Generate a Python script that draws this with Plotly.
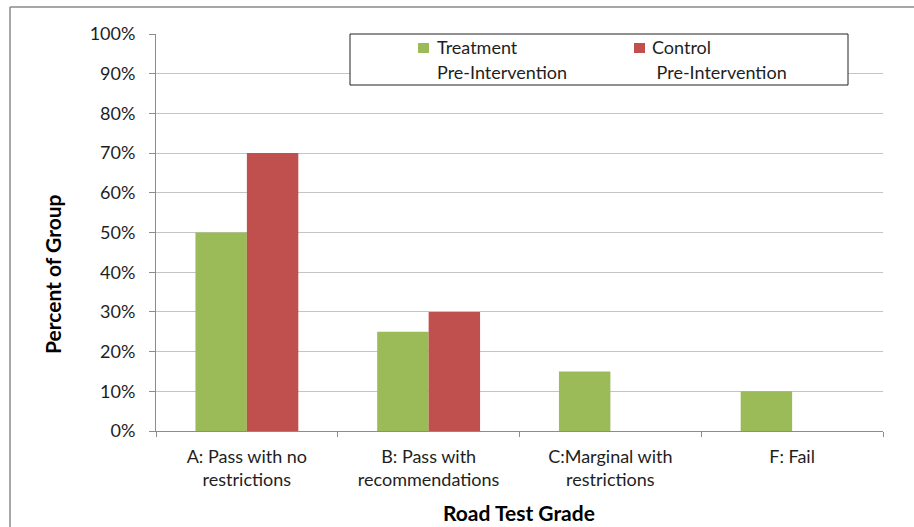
import plotly.graph_objects as go

# Road test results by grade, share of each group
categories = [
    "A: Pass with no<br>restrictions",
    "B: Pass with<br>recommendations",
    "C:Marginal with<br>restrictions",
    "F: Fail",
]
treatment_pre = [0.50, 0.25, 0.15, 0.10]
control_pre = [0.70, 0.30, 0.00, 0.00]
series_names = [("Treatment", "Pre-Intervention"), ("Control", " Pre-Intervention")]
green = "#9BBB59"
red = "#C0504D"

W, H = 914, 527
L, R, T, B = 156, 883, 34, 431  # plot area in pixels
FONT = "Lato"
TXT = "#1e1e1e"
FS = 18


def px(x):
    return (x - L) / (R - L)


def py(y):
    return (B - y) / (B - T)


fig = go.Figure()
fig.add_trace(go.Bar(x=categories, y=treatment_pre, name=" ".join(series_names[0]),
                     marker=dict(color=green, line=dict(width=0)), showlegend=False))
fig.add_trace(go.Bar(x=categories, y=control_pre, name=" ".join(series_names[1]).strip(),
                     marker=dict(color=red, line=dict(width=0)), showlegend=False))

shapes = [
    # chart frame (top and left edges)
    dict(type="line", xref="paper", yref="paper", x0=px(10), x1=px(916), y0=py(7), y1=py(7),
         line=dict(color="#8a8a8a", width=1.5)),
    dict(type="line", xref="paper", yref="paper", x0=px(10), x1=px(10), y0=py(7), y1=py(530),
         line=dict(color="#8a8a8a", width=1.5)),
    # legend box
    dict(type="rect", xref="paper", yref="paper", x0=px(350), x1=px(848), y0=py(85), y1=py(34),
         fillcolor="white", line=dict(color="#222222", width=1), layer="above"),
    # legend swatches
    dict(type="rect", xref="paper", yref="paper", x0=px(418), x1=px(429), y0=py(53), y1=py(43),
         fillcolor=green, line=dict(width=0), layer="above"),
    dict(type="rect", xref="paper", yref="paper", x0=px(634), x1=px(645), y0=py(53), y1=py(43),
         fillcolor=red, line=dict(width=0), layer="above"),
]

annotations = []
for (first, second), x1 in zip(series_names, [435, 650]):
    annotations.append(dict(text=first, x=px(x1), y=py(47), xref="paper", yref="paper",
                            xanchor="left", yanchor="middle", showarrow=False,
                            font=dict(family=FONT, size=FS, color=TXT)))
    annotations.append(dict(text=second, x=px(x1), y=py(72), xref="paper", yref="paper",
                            xanchor="left", yanchor="middle", showarrow=False,
                            font=dict(family=FONT, size=FS, color=TXT)))

# axis titles
annotations.append(dict(text="<b>Percent of Group</b>", x=px(52), y=py(274), xref="paper", yref="paper",
                        xanchor="center", yanchor="middle", showarrow=False, textangle=-90,
                        font=dict(family=FONT, size=21, color="#000000")))
annotations.append(dict(text="<b>Road Test Grade</b>", x=px(519), y=py(512), xref="paper", yref="paper",
                        xanchor="center", yanchor="middle", showarrow=False,
                        font=dict(family=FONT, size=21, color="#000000")))

fig.update_layout(
    width=W, height=H,
    margin=dict(l=L, r=W - R, t=T, b=H - B, pad=0),
    paper_bgcolor="white", plot_bgcolor="white",
    barmode="group", bargap=0.434, bargroupgap=0,
    font=dict(family=FONT, size=FS, color=TXT),
    shapes=shapes, annotations=annotations,
    showlegend=False,
)
fig.update_xaxes(
    showline=True, linecolor="#8c8c8c", linewidth=1,
    ticks="outside", tickson="boundaries", ticklen=5, tickcolor="#8c8c8c",
    showgrid=False, tickfont=dict(family=FONT, size=FS, color=TXT),
    ticklabelstandoff=9,
)
fig.update_yaxes(
    range=[0, 1], dtick=0.1, tickformat=".0%",
    showline=True, linecolor="#8c8c8c", linewidth=1,
    ticks="outside", ticklen=6, tickcolor="#8c8c8c",
    showgrid=True, gridcolor="#c4c4c4", gridwidth=1, zeroline=False,
    tickfont=dict(family=FONT, size=FS, color=TXT),
    ticklabelstandoff=10,
)

fig.write_html("out.html")
